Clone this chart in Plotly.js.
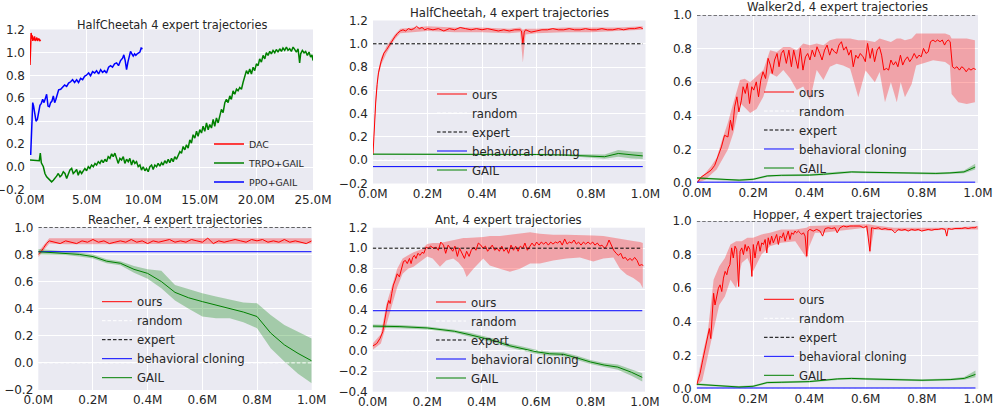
<!DOCTYPE html>
<html><head><meta charset="utf-8">
<script src="https://cdn.plot.ly/plotly-3.0.1.min.js"></script>
<style>html,body{margin:0;padding:0;background:#fff;}#chart{width:995px;height:408px;}</style>
</head><body><div id="chart"></div>
<script>
// ---------- DATA ----------
// Panel 1: HalfCheetah 4 expert trajectories (x in millions of steps)
const dacX = [0,0.05,0.1,0.15,0.2,0.25,0.3,0.35,0.4,0.45,0.5,0.55,0.6,0.65,0.7,0.75,0.8,0.85,0.9,0.94];
const dacY = [0.89,1.05,1.17,1.12,1.15,1.10,1.13,1.11,1.14,1.10,1.12,1.11,1.13,1.10,1.12,1.11,1.12,1.10,1.11,1.11];
const trpoX = [0,0.29,0.59,0.82,0.91,1.0,1.18,1.32,1.47,1.62,1.76,1.91,2.06,2.21,2.35,2.5,2.65,2.79,2.94,3.09,3.24,3.38,3.53,3.68,3.82,3.97,4.12,4.26,4.41,4.56,4.71,4.85,5.0,5.15,5.29,5.44,5.59,5.74,5.88,6.03,6.18,6.32,6.47,6.62,6.76,6.91,7.06,7.21,7.35,7.5,7.65,7.79,7.94,8.09,8.24,8.38,8.53,8.68,8.82,8.97,9.12,9.26,9.41,9.56,9.71,9.85,10.0,10.15,10.29,10.44,10.59,10.74,10.88,11.03,11.18,11.32,11.47,11.62,11.76,11.91,12.06,12.21,12.35,12.5,12.65,12.79,12.94,13.09,13.24,13.38,13.53,13.68,13.82,13.97,14.12,14.26,14.41,14.56,14.71,14.85,15.0,15.15,15.29,15.44,15.59,15.74,15.88,16.03,16.18,16.32,16.47,16.62,16.76,16.91,17.06,17.21,17.35,17.5,17.65,17.79,17.94,18.09,18.24,18.38,18.53,18.68,18.82,18.97,19.12,19.26,19.41,19.56,19.71,19.85,20.0,20.15,20.29,20.44,20.59,20.74,20.88,21.03,21.18,21.32,21.47,21.62,21.76,21.91,22.06,22.21,22.35,22.5,22.65,22.79,22.94,23.09,23.24,23.38,23.53,23.68,23.82,23.91,24.06,24.21,24.35,24.5,24.65,24.79,24.91,25.0];
const trpoY = [0.062,0.059,0.059,0.056,0.121,0.038,0.003,-0.056,-0.085,-0.1,-0.115,-0.129,-0.115,-0.1,-0.079,-0.056,-0.085,-0.071,-0.041,-0.056,-0.1,-0.062,-0.026,-0.012,-0.056,-0.041,-0.021,-0.071,-0.032,-0.056,-0.026,-0.012,-0.032,0.003,-0.012,0.018,0.003,0.032,0.018,0.047,0.032,0.062,0.038,0.068,0.047,0.091,0.076,0.115,0.091,0.121,0.076,0.032,0.076,0.062,0.091,0.032,0.068,0.047,0.076,0.018,0.062,0.032,0.047,0.003,0.018,-0.026,0.003,-0.032,-0.012,-0.041,0.003,0.018,-0.021,0.018,0.003,0.032,0.009,0.038,0.018,0.056,0.032,0.068,0.038,0.076,0.047,0.091,0.068,0.106,0.135,0.121,0.179,0.15,0.194,0.165,0.238,0.209,0.282,0.253,0.312,0.268,0.326,0.297,0.356,0.312,0.385,0.326,0.371,0.341,0.415,0.356,0.429,0.385,0.459,0.503,0.474,0.562,0.591,0.562,0.621,0.591,0.665,0.635,0.679,0.665,0.694,0.679,0.738,0.782,0.841,0.812,0.856,0.812,0.871,0.841,0.9,0.885,0.944,0.915,0.974,0.944,0.997,0.974,1.009,0.988,1.018,0.997,1.026,1.003,1.032,1.009,1.038,1.018,1.047,1.018,1.032,1.009,1.047,1.026,1.003,1.032,0.909,0.988,1.018,0.997,1.009,0.974,1.003,0.959,0.979,0.929];
const ppoX = [0.06,0.15,0.24,0.32,0.41,0.53,0.65,0.76,0.88,1.0,1.12,1.24,1.35,1.47,1.59,1.71,1.82,1.94,2.06,2.18,2.29,2.41,2.53,2.71,2.88,3.06,3.24,3.41,3.59,3.76,3.94,4.12,4.29,4.47,4.65,4.82,5.0,5.18,5.35,5.53,5.71,5.88,6.06,6.24,6.41,6.59,6.76,6.94,7.12,7.29,7.47,7.65,7.82,8.0,8.18,8.29,8.41,8.53,8.65,8.76,8.88,9.0,9.12,9.24,9.35,9.47,9.59,9.71,9.82,9.94];
const ppoY = [0.106,0.356,0.562,0.532,0.459,0.40,0.415,0.474,0.538,0.556,0.591,0.562,0.606,0.635,0.532,0.526,0.562,0.576,0.621,0.562,0.591,0.635,0.674,0.679,0.694,0.715,0.703,0.732,0.744,0.762,0.738,0.762,0.738,0.774,0.762,0.791,0.803,0.821,0.797,0.832,0.821,0.841,0.812,0.85,0.826,0.841,0.821,0.871,0.885,0.871,0.9,0.909,0.885,0.929,0.95,0.979,0.929,0.85,0.915,0.974,1.009,0.988,0.968,0.988,0.974,0.988,0.997,1.003,1.038,1.032];

// Panel 2: HalfCheetah, 4 expert trajectories
const hcX = [0,0.005,0.01,0.015,0.02,0.03,0.04,0.05,0.06,0.07,0.08,0.09,0.1,0.11,0.12,0.13,0.14,0.15,0.16,0.17,0.18,0.19,0.2,0.22,0.24,0.26,0.28,0.3,0.32,0.34,0.36,0.38,0.4,0.42,0.44,0.46,0.48,0.5,0.52,0.54,0.545,0.55,0.555,0.56,0.58,0.6,0.62,0.64,0.66,0.68,0.7,0.72,0.74,0.76,0.78,0.8,0.82,0.84,0.86,0.88,0.9,0.92,0.94,0.96,0.98,0.99];
const hcOurs = [0.05,0.3,0.5,0.65,0.75,0.85,0.92,0.95,0.99,1.03,1.06,1.09,1.11,1.12,1.11,1.13,1.12,1.13,1.15,1.13,1.14,1.12,1.13,1.12,1.13,1.11,1.13,1.12,1.14,1.13,1.12,1.13,1.12,1.13,1.12,1.11,1.12,1.11,1.12,1.12,1.11,1.0,1.1,1.12,1.10,1.11,1.12,1.12,1.13,1.12,1.12,1.13,1.12,1.12,1.13,1.12,1.12,1.13,1.12,1.12,1.13,1.12,1.13,1.13,1.14,1.13];
const hcBandX = [0,0.005,0.01,0.02,0.03,0.05,0.08,0.1,0.2,0.3,0.4,0.5,0.54,0.55,0.56,0.6,0.7,0.8,0.9,0.99];
const hcBandLo = [0.04,0.27,0.46,0.72,0.82,0.92,1.04,1.09,1.11,1.10,1.10,1.09,1.10,0.84,1.08,1.09,1.10,1.10,1.11,1.12];
const hcBandHi = [0.06,0.33,0.54,0.78,0.88,0.98,1.08,1.13,1.15,1.14,1.14,1.13,1.14,1.12,1.13,1.13,1.14,1.14,1.14,1.15];
const hcGailX = [0,0.1,0.2,0.3,0.4,0.5,0.6,0.7,0.75,0.8,0.85,0.9,0.95,0.99];
const hcGail = [0.052,0.052,0.052,0.051,0.05,0.05,0.049,0.045,0.04,0.037,0.03,0.058,0.045,0.037];
const hcGailLo = [0.047,0.047,0.047,0.046,0.045,0.044,0.043,0.038,0.03,0.022,0.012,0.03,0.015,0.01];
const hcGailHi = [0.057,0.057,0.057,0.056,0.055,0.056,0.055,0.052,0.05,0.052,0.05,0.088,0.075,0.07];

// Panel 3: Walker2d, 4 expert trajectories
const wkX = [0,0.015,0.033,0.05,0.063,0.075,0.087,0.098,0.11,0.119,0.126,0.134,0.142,0.149,0.158,0.164,0.172,0.179,0.187,0.195,0.202,0.211,0.219,0.227,0.235,0.244,0.253,0.261,0.268,0.276,0.285,0.292,0.30,0.308,0.318,0.327,0.336,0.344,0.351,0.359,0.368,0.377,0.386,0.394,0.402,0.41,0.419,0.427,0.437,0.445,0.454,0.463,0.472,0.48,0.489,0.497,0.505,0.514,0.522,0.531,0.54,0.548,0.556,0.565,0.573,0.581,0.591,0.599,0.607,0.616,0.624,0.632,0.641,0.649,0.657,0.665,0.674,0.682,0.69,0.699,0.707,0.715,0.724,0.732,0.74,0.749,0.757,0.765,0.773,0.782,0.79,0.798,0.806,0.815,0.823,0.831,0.84,0.848,0.856,0.865,0.873,0.881,0.887,0.894,0.901,0.909,0.917,0.925,0.934,0.942,0.95,0.958,0.967,0.975,0.983,0.992];
const wkOurs = [0,0.036,0.056,0.076,0.105,0.155,0.215,0.284,0.274,0.374,0.314,0.453,0.513,0.423,0.493,0.573,0.533,0.593,0.473,0.573,0.553,0.602,0.513,0.612,0.662,0.622,0.742,0.702,0.652,0.732,0.771,0.692,0.771,0.791,0.712,0.791,0.692,0.791,0.742,0.682,0.801,0.672,0.751,0.771,0.732,0.791,0.751,0.811,0.771,0.732,0.791,0.821,0.761,0.801,0.781,0.771,0.821,0.841,0.791,0.811,0.761,0.791,0.692,0.761,0.742,0.771,0.751,0.722,0.831,0.742,0.801,0.722,0.791,0.811,0.761,0.672,0.682,0.672,0.732,0.702,0.722,0.692,0.761,0.702,0.732,0.751,0.722,0.742,0.771,0.742,0.761,0.751,0.801,0.771,0.781,0.841,0.851,0.841,0.851,0.841,0.851,0.821,0.841,0.851,0.841,0.692,0.682,0.692,0.672,0.692,0.682,0.662,0.682,0.672,0.682,0.676];
const wkBandX = [0,0.03,0.05,0.07,0.09,0.11,0.13,0.153,0.17,0.189,0.212,0.236,0.26,0.284,0.307,0.331,0.355,0.378,0.402,0.426,0.45,0.473,0.497,0.52,0.545,0.574,0.6,0.633,0.65,0.669,0.69,0.711,0.725,0.74,0.764,0.78,0.80,0.84,0.883,0.9,0.906,0.93,0.96,0.989];
const wkBandLo = [0,0.02,0.05,0.08,0.14,0.2,0.3,0.476,0.45,0.417,0.44,0.514,0.653,0.633,0.673,0.623,0.554,0.574,0.494,0.673,0.613,0.692,0.71,0.7,0.68,0.51,0.67,0.60,0.66,0.48,0.6,0.48,0.6,0.51,0.59,0.7,0.71,0.73,0.72,0.7,0.53,0.48,0.47,0.48];
const wkBandHi = [0.01,0.06,0.1,0.15,0.26,0.36,0.48,0.613,0.62,0.60,0.633,0.673,0.79,0.78,0.81,0.81,0.79,0.83,0.82,0.83,0.82,0.85,0.86,0.86,0.86,0.85,0.85,0.84,0.86,0.85,0.84,0.86,0.86,0.85,0.86,0.89,0.89,0.89,0.89,0.88,0.86,0.86,0.86,0.85];
const wkGailX = [0,0.05,0.1,0.15,0.2,0.25,0.3,0.35,0.4,0.45,0.5,0.55,0.6,0.65,0.7,0.75,0.8,0.85,0.9,0.95,0.99];
const wkGail = [0.03,0.026,0.02,0.017,0.022,0.042,0.046,0.046,0.047,0.052,0.061,0.066,0.064,0.062,0.06,0.058,0.056,0.057,0.06,0.066,0.095];
const wkGailLo = [0.024,0.02,0.014,0.011,0.016,0.036,0.04,0.04,0.041,0.046,0.055,0.06,0.058,0.056,0.054,0.052,0.05,0.051,0.054,0.058,0.08];
const wkGailHi = [0.036,0.032,0.026,0.023,0.028,0.048,0.052,0.052,0.053,0.058,0.067,0.072,0.07,0.068,0.066,0.064,0.062,0.063,0.066,0.074,0.115];

// Panel 4: Reacher, 4 expert trajectories
const reX = [0,0.01,0.02,0.03,0.04,0.06,0.08,0.1,0.12,0.14,0.16,0.18,0.2,0.22,0.24,0.26,0.28,0.3,0.32,0.34,0.36,0.38,0.4,0.42,0.44,0.46,0.48,0.5,0.52,0.54,0.56,0.58,0.6,0.62,0.64,0.66,0.68,0.7,0.72,0.74,0.76,0.78,0.8,0.82,0.84,0.86,0.88,0.9,0.92,0.94,0.96,0.98,1.0];
const reOurs = [0.80,0.82,0.85,0.88,0.90,0.89,0.88,0.90,0.89,0.88,0.90,0.89,0.91,0.89,0.90,0.88,0.89,0.90,0.89,0.91,0.89,0.90,0.88,0.90,0.89,0.90,0.91,0.89,0.90,0.89,0.91,0.90,0.89,0.92,0.88,0.90,0.89,0.90,0.91,0.90,0.89,0.91,0.90,0.91,0.89,0.90,0.89,0.91,0.89,0.90,0.89,0.88,0.90];
const reBandX = [0,0.02,0.04,0.1,0.3,0.5,0.7,0.9,1.0];
const reBandLo = [0.78,0.83,0.88,0.875,0.875,0.88,0.88,0.875,0.88];
const reBandHi = [0.82,0.87,0.92,0.915,0.915,0.915,0.92,0.92,0.92];
const reGailX = [0,0.1,0.15,0.2,0.25,0.3,0.35,0.4,0.45,0.5,0.55,0.6,0.65,0.7,0.75,0.8,0.85,0.9,0.95,1.0];
const reGail = [0.82,0.81,0.80,0.784,0.75,0.735,0.69,0.66,0.60,0.52,0.48,0.452,0.425,0.403,0.375,0.342,0.22,0.133,0.07,0.015];
const reGailLo = [0.80,0.795,0.785,0.77,0.735,0.72,0.665,0.62,0.55,0.46,0.40,0.342,0.33,0.33,0.30,0.256,0.108,0.01,-0.08,-0.15];
const reGailHi = [0.84,0.825,0.815,0.80,0.765,0.75,0.715,0.69,0.68,0.575,0.545,0.514,0.49,0.465,0.445,0.44,0.354,0.28,0.23,0.18];

// Panel 5: Ant, 4 expert trajectories
const anX = [0,0.015,0.027,0.037,0.043,0.049,0.054,0.059,0.064,0.07,0.076,0.083,0.09,0.098,0.105,0.113,0.12,0.127,0.135,0.141,0.147,0.153,0.159,0.166,0.174,0.181,0.188,0.196,0.204,0.213,0.223,0.233,0.241,0.25,0.26,0.268,0.277,0.285,0.294,0.302,0.311,0.319,0.328,0.337,0.345,0.354,0.362,0.371,0.379,0.388,0.397,0.405,0.414,0.422,0.431,0.439,0.448,0.457,0.465,0.474,0.482,0.491,0.499,0.508,0.517,0.525,0.534,0.542,0.551,0.559,0.568,0.576,0.585,0.594,0.602,0.611,0.619,0.628,0.636,0.645,0.654,0.662,0.671,0.679,0.688,0.696,0.705,0.714,0.722,0.731,0.739,0.748,0.756,0.765,0.774,0.782,0.791,0.799,0.808,0.816,0.825,0.834,0.842,0.851,0.859,0.868,0.876,0.885,0.894,0.902,0.911,0.919,0.928,0.936,0.945,0.953,0.962,0.971,0.979,0.988,0.994];
const anOurs = [0.045,0.07,0.12,0.185,0.28,0.38,0.445,0.49,0.46,0.56,0.64,0.69,0.75,0.72,0.78,0.87,0.88,0.85,0.90,0.85,0.91,0.93,0.90,0.95,0.93,0.96,0.95,1.01,1.0,1.02,1.0,1.01,0.98,1.06,1.03,0.95,1.03,1.0,0.97,1.02,0.92,1.0,0.95,0.90,0.97,0.92,0.98,1.01,0.98,1.05,1.03,1.0,1.02,0.97,1.0,1.03,0.98,1.0,0.97,1.02,0.97,1.0,0.95,1.03,0.98,1.02,0.97,1.02,1.0,1.05,0.98,1.02,1.05,1.02,1.06,1.03,1.06,1.04,1.06,1.03,1.06,1.04,1.06,1.05,1.07,1.03,1.09,1.04,1.06,1.05,1.08,1.04,1.06,1.03,1.06,1.04,1.06,1.04,1.06,1.03,1.05,1.02,1.03,1.0,1.02,1.08,1.03,0.98,0.95,0.93,0.95,0.90,0.91,0.88,0.90,0.88,0.91,0.88,0.83,0.84,0.83];
const anBandX = [0,0.03,0.05,0.07,0.09,0.11,0.13,0.15,0.18,0.2,0.22,0.247,0.27,0.296,0.315,0.333,0.345,0.37,0.406,0.43,0.467,0.504,0.541,0.578,0.614,0.663,0.712,0.761,0.81,0.847,0.884,0.908,0.933,0.957,0.982,0.992];
const anBandLo = [0.01,0.07,0.25,0.44,0.62,0.75,0.80,0.82,0.88,0.92,0.90,0.82,0.88,0.90,0.86,0.80,0.72,0.80,0.90,0.83,0.80,0.77,0.80,0.85,0.85,0.88,0.90,0.91,0.87,0.90,0.91,0.80,0.74,0.71,0.66,0.61];
const anBandHi = [0.07,0.16,0.45,0.62,0.80,0.90,0.93,0.96,0.99,1.04,1.05,1.05,1.07,1.08,1.09,1.10,1.10,1.10,1.11,1.12,1.12,1.13,1.14,1.155,1.14,1.13,1.13,1.13,1.125,1.12,1.10,1.09,1.08,1.07,1.06,1.05];
const anGailX = [0,0.1,0.2,0.3,0.35,0.4,0.45,0.5,0.55,0.6,0.65,0.7,0.75,0.8,0.85,0.9,0.95,0.99];
const anGail = [0.24,0.235,0.222,0.19,0.16,0.13,0.095,0.05,0.02,-0.01,-0.03,-0.035,-0.07,-0.11,-0.14,-0.16,-0.21,-0.26];
const anGailLo = [0.225,0.22,0.207,0.175,0.14,0.11,0.075,0.03,0.0,-0.03,-0.05,-0.055,-0.09,-0.13,-0.16,-0.185,-0.245,-0.3];
const anGailHi = [0.255,0.25,0.237,0.205,0.18,0.15,0.115,0.07,0.04,0.01,-0.01,-0.015,-0.05,-0.09,-0.12,-0.135,-0.18,-0.22];

// Panel 6: Hopper, 4 expert trajectories
const hoX = [0,0.012,0.02,0.027,0.033,0.039,0.045,0.05,0.056,0.06,0.065,0.071,0.077,0.083,0.089,0.095,0.101,0.107,0.112,0.118,0.124,0.13,0.136,0.142,0.149,0.154,0.16,0.166,0.172,0.178,0.183,0.189,0.196,0.201,0.207,0.213,0.219,0.225,0.231,0.237,0.243,0.249,0.254,0.26,0.266,0.272,0.278,0.284,0.29,0.296,0.302,0.308,0.314,0.32,0.325,0.331,0.337,0.343,0.349,0.355,0.361,0.367,0.373,0.379,0.385,0.391,0.395,0.402,0.414,0.426,0.438,0.447,0.456,0.467,0.479,0.491,0.499,0.509,0.521,0.533,0.544,0.556,0.568,0.58,0.592,0.604,0.615,0.621,0.633,0.645,0.657,0.669,0.68,0.692,0.704,0.716,0.728,0.74,0.751,0.763,0.775,0.787,0.799,0.811,0.822,0.834,0.846,0.858,0.87,0.882,0.888,0.893,0.905,0.917,0.929,0.941,0.953,0.964,0.976,0.988,0.994];
const hoOurs = [0.024,0.093,0.16,0.22,0.28,0.32,0.36,0.30,0.44,0.57,0.50,0.56,0.60,0.62,0.58,0.66,0.70,0.68,0.72,0.74,0.84,0.78,0.85,0.83,0.61,0.82,0.84,0.80,0.86,0.82,0.85,0.83,0.67,0.86,0.78,0.85,0.88,0.82,0.87,0.86,0.89,0.81,0.90,0.86,0.91,0.87,0.90,0.92,0.86,0.91,0.90,0.93,0.88,0.92,0.94,0.89,0.93,0.92,0.94,0.93,0.94,0.93,0.92,0.93,0.91,0.79,0.94,0.95,0.94,0.95,0.94,0.91,0.955,0.96,0.955,0.96,0.93,0.96,0.97,0.965,0.97,0.97,0.97,0.97,0.96,0.97,0.82,0.96,0.955,0.96,0.95,0.955,0.95,0.95,0.93,0.95,0.945,0.95,0.94,0.95,0.945,0.95,0.94,0.945,0.95,0.945,0.95,0.95,0.955,0.95,0.91,0.955,0.95,0.955,0.955,0.955,0.96,0.955,0.96,0.96,0.965];
const hoBandX = [0,0.02,0.04,0.06,0.08,0.1,0.12,0.14,0.16,0.18,0.2,0.23,0.26,0.3,0.35,0.39,0.4,0.42,0.45,0.5,0.6,0.61,0.615,0.63,0.7,0.8,0.9,1.0];
const hoBandLo = [0.02,0.05,0.2,0.35,0.5,0.55,0.65,0.6,0.75,0.78,0.7,0.8,0.85,0.87,0.88,0.78,0.85,0.93,0.93,0.94,0.96,0.9,0.8,0.95,0.94,0.94,0.95,0.95];
const hoBandHi = [0.04,0.2,0.35,0.65,0.73,0.78,0.86,0.88,0.88,0.9,0.9,0.92,0.93,0.95,0.95,0.96,0.97,0.97,0.97,0.975,0.98,0.98,0.98,0.975,0.96,0.96,0.96,0.97];
const hoGailX = [0,0.05,0.1,0.15,0.2,0.25,0.3,0.4,0.5,0.55,0.6,0.7,0.8,0.9,0.95,0.99];
const hoGail = [0.028,0.024,0.016,0.012,0.016,0.038,0.04,0.044,0.06,0.063,0.06,0.056,0.052,0.056,0.063,0.087];
const hoGailLo = [0.022,0.018,0.01,0.006,0.01,0.032,0.034,0.038,0.054,0.057,0.054,0.05,0.046,0.05,0.055,0.07];
const hoGailHi = [0.034,0.03,0.022,0.018,0.022,0.044,0.046,0.05,0.066,0.069,0.066,0.062,0.058,0.062,0.071,0.11];

// constant reference levels per panel (panels 2..6)
const expertLevel = [1.0,1.0,1.0,1.0,1.0];
const randomLevel = [0.0,0.0,0.0,0.0,0.0];
const bcLevel = [-0.055,0.005,0.82,0.39,0.006];
const lineSpan = [[0,0.99],[0,0.99],[0,1.0],[0,0.99],[0,0.99]];

// titles / ticks
const titles = ['HalfCheetah 4 expert trajectories','HalfCheetah, 4 expert trajectories','Walker2d, 4 expert trajectories','Reacher, 4 expert trajectories','Ant, 4 expert trajectories','Hopper, 4 expert trajectories'];
const xTickVals1 = [0,5,10,15,20,25];
const xTickText1 = ['0.0M','5.0M','10.0M','15.0M','20.0M','25.0M'];
const xTickVals = [0,0.2,0.4,0.6,0.8,1.0];
const xTickText = ['0.0M','0.2M','0.4M','0.6M','0.8M','1.0M'];
const yRanges = [[-0.2,1.2],[-0.2,1.2],[0,1.0],[-0.2,1.0],[-0.4,1.2],[0,1.0]];
const seriesNames1 = ['DAC','TRPO+GAIL','PPO+GAIL'];
const seriesNames = ['ours','random','expert','behavioral cloning','GAIL'];

// ---------- LAYOUT GEOMETRY ----------
const W = 995, H = 408;
const boxes = [
  {l:30, r:313, t:29.5, b:190},
  {l:373, r:645.5, t:20.5, b:183.5},
  {l:697, r:978, t:15, b:183},
  {l:38.3, r:311.7, t:227.3, b:390},
  {l:372.7, r:645, t:227.7, b:391.7},
  {l:696.7, r:978.3, t:221, b:389}
];
const titleY = [25, 13.3, 7.3, 220, 220, 215];
const legendPos = [[209,129.5],[432,79.5],[759,77.5],[97,287.2],[431,287.5],[759,284.8]];

const FONT = 'DejaVu Sans, sans-serif';
const TXT = '#262626';
const RED = '#ff0000', GREEN = '#008000', BLUE = '#0000ff';
const RED_FILL = 'rgba(255,0,0,0.3)', GREEN_FILL = 'rgba(0,128,0,0.3)';

const traces = [];
function ax(i){ return i===0 ? ['x','y'] : ['x'+(i+1),'y'+(i+1)]; }
function lg(i){ return i===0 ? 'legend' : 'legend'+(i+1); }

function band(i, bx, lo, hi, fill){
  const [xa, ya] = ax(i);
  traces.push({x: bx.concat(bx.slice().reverse()), y: lo.concat(hi.slice().reverse()),
    xaxis: xa, yaxis: ya, mode:'lines', fill:'toself', fillcolor: fill,
    line:{width:0}, hoverinfo:'skip', showlegend:false});
}
function line(i, x, y, name, color, width, dash, show){
  const [xa, ya] = ax(i);
  traces.push({x:x, y:y, xaxis:xa, yaxis:ya, mode:'lines', name:name,
    line:{color:color, width:width, dash:dash||'solid'}, legend: lg(i), showlegend: show!==false});
}

// Panel 1
line(0, dacX, dacY, seriesNames1[0], RED, 1.5);
line(0, trpoX, trpoY, seriesNames1[1], GREEN, 1.5);
line(0, ppoX, ppoY, seriesNames1[2], BLUE, 1.5);

// Panels 2..6
const panels = [
  {ox:hcX, oy:hcOurs, bx:hcBandX, blo:hcBandLo, bhi:hcBandHi, gx:hcGailX, gy:hcGail, glo:hcGailLo, ghi:hcGailHi},
  {ox:wkX, oy:wkOurs, bx:wkBandX, blo:wkBandLo, bhi:wkBandHi, gx:wkGailX, gy:wkGail, glo:wkGailLo, ghi:wkGailHi},
  {ox:reX, oy:reOurs, bx:reBandX, blo:reBandLo, bhi:reBandHi, gx:reGailX, gy:reGail, glo:reGailLo, ghi:reGailHi},
  {ox:anX, oy:anOurs, bx:anBandX, blo:anBandLo, bhi:anBandHi, gx:anGailX, gy:anGail, glo:anGailLo, ghi:anGailHi},
  {ox:hoX, oy:hoOurs, bx:hoBandX, blo:hoBandLo, bhi:hoBandHi, gx:hoGailX, gy:hoGail, glo:hoGailLo, ghi:hoGailHi}
];
panels.forEach((p, k) => {
  const i = k + 1;
  band(i, p.bx, p.blo, p.bhi, RED_FILL);
  band(i, p.gx, p.glo, p.ghi, GREEN_FILL);
  const span = lineSpan[k];
  line(i, p.ox, p.oy, seriesNames[0], RED, 1);
  line(i, span, [randomLevel[k], randomLevel[k]], seriesNames[1], '#ffffff', 1, '3.5px,2px');
  line(i, span, [expertLevel[k], expertLevel[k]], seriesNames[2], '#000000', 1, '3.5px,2px');
  line(i, span, [bcLevel[k], bcLevel[k]], seriesNames[3], BLUE, 1);
  line(i, p.gx, p.gy, seriesNames[4], GREEN, 1);
});

const layout = {
  width: W, height: H,
  margin: {l:0, r:0, t:0, b:0, autoexpand:false},
  paper_bgcolor: '#ffffff', plot_bgcolor: '#EAEAF2',
  font: {family: FONT, color: TXT, size: 12},
  annotations: [],
  hovermode: false
};
boxes.forEach((b, i) => {
  const sfx = i===0 ? '' : String(i+1);
  layout['xaxis'+sfx] = {
    domain: [b.l/W, b.r/W], anchor: 'y'+sfx,
    range: i===0 ? [0,25] : [0,1.0],
    tickmode: 'array', tickvals: i===0 ? xTickVals1 : xTickVals, ticktext: i===0 ? xTickText1 : xTickText,
    showgrid: true, gridcolor: '#ffffff', gridwidth: 1, zeroline: false, showline: false, ticks: '',
    tickfont: {family: FONT, size: 12, color: TXT}, fixedrange: true, ticklabelstandoff: 1
  };
  layout['yaxis'+sfx] = {
    domain: [1 - b.b/H, 1 - b.t/H], anchor: 'x'+sfx,
    range: yRanges[i], tickmode: 'linear', tick0: 0, dtick: 0.2, tickformat: '.1f',
    showgrid: true, gridcolor: '#ffffff', gridwidth: 1, zeroline: false, showline: false, ticks: '',
    tickfont: {family: FONT, size: 12, color: TXT}, fixedrange: true, ticklabelstandoff: 4
  };
  layout.annotations.push({
    text: titles[i], xref: 'paper', yref: 'paper',
    x: (b.l + b.r)/2/W, y: 1 - titleY[i]/H, xanchor: 'center', yanchor: 'middle',
    showarrow: false, font: {family: FONT, size: i===0 ? 11.4 : 11.7, color: TXT}
  });
  layout[lg(i)] = {
    x: legendPos[i][0]/W, y: 1 - legendPos[i][1]/H, xanchor: 'left', yanchor: 'top',
    bgcolor: 'rgba(0,0,0,0)', borderwidth: 0,
    font: {family: FONT, size: i===0 ? 9.4 : 11.7, color: TXT}
  };
});

Plotly.newPlot('chart', traces, layout, {displayModeBar: false, staticPlot: true});
</script>
</body></html>
